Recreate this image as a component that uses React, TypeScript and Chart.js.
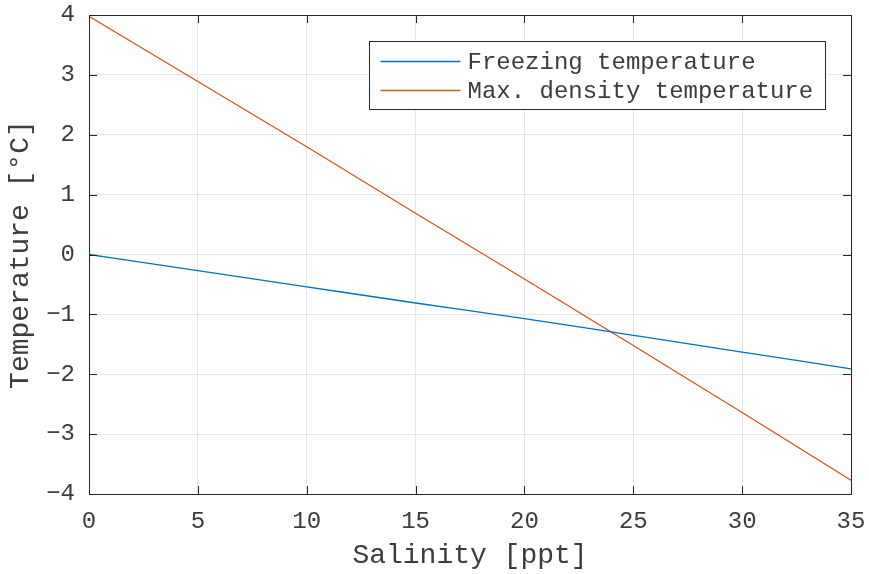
import React, { useEffect, useRef } from "react";
import { Chart, registerables } from "chart.js";

Chart.register(...registerables);

const salinity = [0, 5, 10, 15, 20, 25, 30, 35];
const freezingTemp = [0, -0.27, -0.54, -0.81, -1.07, -1.35, -1.63, -1.91];
const maxDensityTemp = [3.98, 2.89, 1.8, 0.69, -0.41, -1.52, -2.64, -3.77];
const seriesLabels = ["Freezing temperature", "Max. density temperature"];
const seriesColors = ["#0072BD", "#D95319"];
const xTitle = "Salinity [ppt]";
const yTitle = "Temperature [\u00B0C]";

const FONT = "'Liberation Mono', 'DejaVu Sans Mono', monospace";
const AX = "#262626";
const TXT = "#3c3c3c";

const boxPlugin = {
  id: "matlabBox",
  afterDraw(chart: any) {
    const { ctx, chartArea } = chart;
    const { left, right, top, bottom } = chartArea;
    const xs = chart.scales.x;
    const ys = chart.scales.y;
    ctx.save();
    ctx.strokeStyle = AX;
    ctx.lineWidth = 1;
    const tl = 8;
    ctx.beginPath();
    xs.ticks.forEach((t: any) => {
      const p = Math.round(xs.getPixelForValue(t.value)) + 0.5;
      ctx.moveTo(p, bottom);
      ctx.lineTo(p, bottom - tl);
      ctx.moveTo(p, top);
      ctx.lineTo(p, top + tl);
    });
    ys.ticks.forEach((t: any) => {
      const p = Math.round(ys.getPixelForValue(t.value)) + 0.5;
      ctx.moveTo(left, p);
      ctx.lineTo(left + tl, p);
      ctx.moveTo(right, p);
      ctx.lineTo(right - tl, p);
    });
    ctx.stroke();
    ctx.strokeRect(Math.round(left) + 0.5, Math.round(top) + 0.5, Math.round(right - left), Math.round(bottom - top));

    // legend
    ctx.font = `24px ${FONT}`;
    const tw = Math.max(...seriesLabels.map((l) => ctx.measureText(l).width));
    const lineLen = 80;
    const bw = Math.round(11 + lineLen + 7 + tw + 12);
    const bh = 68;
    const bx = Math.round(right - 26 - bw) + 0.5;
    const by = Math.round(top + 26) + 0.5;
    ctx.fillStyle = "#ffffff";
    ctx.fillRect(bx, by, bw, bh);
    ctx.strokeStyle = AX;
    ctx.strokeRect(bx, by, bw, bh);
    ctx.textBaseline = "middle";
    ctx.textAlign = "left";
    seriesLabels.forEach((lab, i) => {
      const cy = by + 20 + i * 29;
      ctx.strokeStyle = seriesColors[i];
      ctx.lineWidth = 1.3;
      ctx.beginPath();
      ctx.moveTo(bx + 11, cy);
      ctx.lineTo(bx + 11 + lineLen, cy);
      ctx.stroke();
      ctx.fillStyle = TXT;
      ctx.fillText(lab, bx + 11 + lineLen + 7, cy + 1);
    });
    ctx.restore();
  },
};

export default function App() {
  const ref = useRef<HTMLCanvasElement>(null);
  useEffect(() => {
    document.body.style.margin = "0";
    const chart = new Chart(ref.current!, {
      type: "line",
      data: {
        datasets: [
          {
            label: seriesLabels[0],
            data: salinity.map((s, i) => ({ x: s, y: freezingTemp[i] })),
            borderColor: seriesColors[0],
            borderWidth: 1.3,
            pointRadius: 0,
            cubicInterpolationMode: "monotone",
          },
          {
            label: seriesLabels[1],
            data: salinity.map((s, i) => ({ x: s, y: maxDensityTemp[i] })),
            borderColor: seriesColors[1],
            borderWidth: 1.3,
            pointRadius: 0,
            tension: 0,
          },
        ],
      },
      options: {
        animation: false,
        responsive: false,
        layout: { padding: { top: 15, right: 18, left: 0, bottom: 0 } },
        plugins: { legend: { display: false }, tooltip: { enabled: false } },
        scales: {
          x: {
            type: "linear",
            min: 0,
            max: 35,
            ticks: {
              stepSize: 5,
              color: TXT,
              font: { family: FONT, size: 24 },
              padding: 13,
              maxRotation: 0,
            },
            grid: { color: "#e5e5e5", drawTicks: false },
            border: { display: false },
            title: {
              display: true,
              text: xTitle,
              color: TXT,
              font: { family: FONT, size: 28 },
              padding: { top: 0, bottom: 2 },
            },
            afterFit: (s: any) => {
              s.height = 80;
              s.paddingLeft = 0;
              s.paddingRight = 0;
            },
          },
          y: {
            type: "linear",
            min: -4,
            max: 4,
            ticks: {
              stepSize: 1,
              color: TXT,
              font: { family: FONT, size: 24 },
              padding: 14,
              callback: (v: any) => (v < 0 ? "\u2212" + Math.abs(v) : String(v)),
            },
            grid: { color: "#e5e5e5", drawTicks: false },
            border: { display: false },
            title: {
              display: true,
              text: yTitle,
              color: TXT,
              font: { family: FONT, size: 28 },
              padding: { top: 4, bottom: 0 },
            },
            afterFit: (s: any) => {
              s.width = 89;
              s.paddingTop = 0;
              s.paddingBottom = 0;
            },
          },
        },
      },
      plugins: [boxPlugin],
    } as any);
    return () => chart.destroy();
  }, []);
  return (
    <div style={{ width: 869, height: 574, background: "#fff" }}>
      <canvas ref={ref} width={869} height={574} style={{ display: "block" }} />
    </div>
  );
}
